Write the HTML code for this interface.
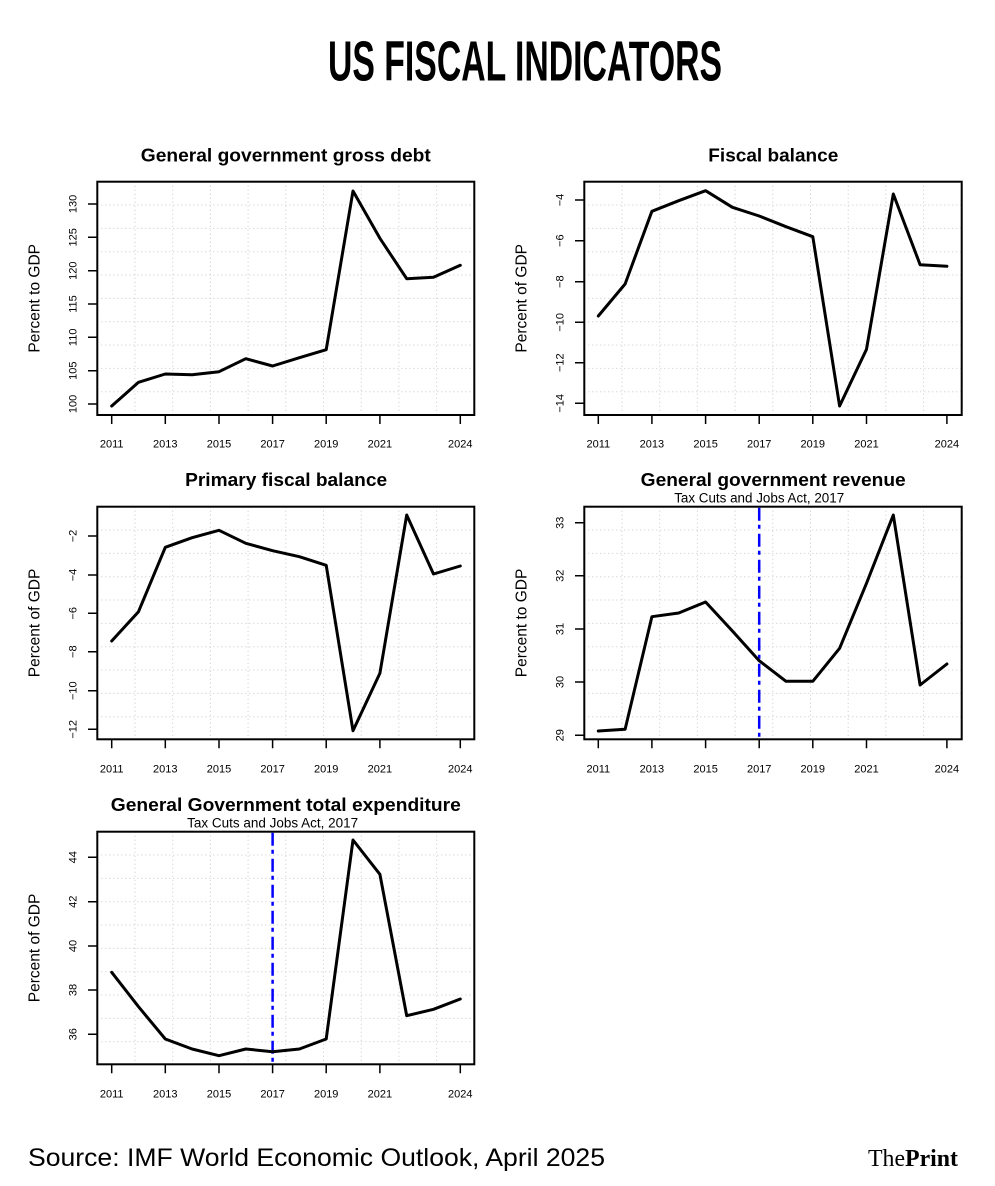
<!DOCTYPE html>
<html>
<head>
<meta charset="utf-8">
<style>
  html,body{margin:0;padding:0;background:#fff;}
  svg{display:block;}
  text{font-family:"Liberation Sans", Arial, sans-serif;fill:#000;}
  .tk{font-size:11px;}
  .yl{font-size:15.5px;}
  .tt{font-size:18.5px;font-weight:bold;}
  .st{font-size:13.5px;}
</style>
</head>
<body>
<svg width="995" height="1186" viewBox="0 0 995 1186" xmlns="http://www.w3.org/2000/svg">
  <rect x="0" y="0" width="995" height="1186" fill="#fff"/>
  <defs>
    <g id="grid" stroke="#c8c8c8" stroke-width="1" stroke-dasharray="1 3" fill="none">
      <path d="M37.7 0V233.3M75.4 0V233.3M113.1 0V233.3M150.8 0V233.3M188.5 0V233.3M226.2 0V233.3M263.9 0V233.3M301.6 0V233.3M339.3 0V233.3M0 23.33H377M0 46.67H377M0 70H377M0 93.33H377M0 116.67H377M0 140H377M0 163.33H377M0 186.67H377M0 210H377"/>
    </g>
  </defs>

  <!-- Main title -->
  <text x="328" y="80.7" font-size="57" font-weight="bold" textLength="394" lengthAdjust="spacingAndGlyphs">US FISCAL INDICATORS</text>

  <!-- ============ Panel 1 ============ -->
  <text class="tt" x="285.8" y="161.7" text-anchor="middle" textLength="290" lengthAdjust="spacingAndGlyphs">General government gross debt</text>
  <use href="#grid" x="97.3" y="181.7"/>
  <rect x="97.3" y="181.7" width="377" height="233.3" fill="none" stroke="#000" stroke-width="2"/>
  <g stroke="#000" stroke-width="1.5">
    <path d="M111.7 415V424M165.3 415V424M219 415V424M272.6 415V424M326.2 415V424M379.9 415V424M460.3 415V424"/>
    <path d="M97.3 404H88M97.3 370.7H88M97.3 337.3H88M97.3 304H88M97.3 270.7H88M97.3 237.3H88M97.3 204H88"/>
  </g>
  <g class="tk" text-anchor="middle">
    <text x="111.7" y="447.3">2011</text><text x="165.3" y="447.3">2013</text><text x="219" y="447.3">2015</text><text x="272.6" y="447.3">2017</text><text x="326.2" y="447.3">2019</text><text x="379.9" y="447.3">2021</text><text x="460.3" y="447.3">2024</text>
    <text transform="translate(76.3,404) rotate(-90)">100</text>
    <text transform="translate(76.3,370.7) rotate(-90)">105</text>
    <text transform="translate(76.3,337.3) rotate(-90)">110</text>
    <text transform="translate(76.3,304) rotate(-90)">115</text>
    <text transform="translate(76.3,270.7) rotate(-90)">120</text>
    <text transform="translate(76.3,237.3) rotate(-90)">125</text>
    <text transform="translate(76.3,204) rotate(-90)">130</text>
  </g>
  <text class="yl" transform="translate(39.3,298.3) rotate(-90)" text-anchor="middle">Percent to GDP</text>
  <polyline fill="none" stroke="#000" stroke-width="3" stroke-linejoin="round" stroke-linecap="round"
    points="111.7,406 138.5,382.3 165.3,374 192.1,374.7 219,371.7 245.8,358.7 272.6,366 299.4,357.7 326.2,349.7 353,191 379.9,238.3 406.7,278.7 433.5,277.3 460.3,265.3"/>

  <!-- ============ Panel 2 ============ -->
  <text class="tt" x="773.3" y="161.7" text-anchor="middle" textLength="130" lengthAdjust="spacingAndGlyphs">Fiscal balance</text>
  <use href="#grid" x="584.3" y="181.7"/>
  <rect x="584.3" y="181.7" width="377.4" height="233.3" fill="none" stroke="#000" stroke-width="2"/>
  <g stroke="#000" stroke-width="1.5">
    <path d="M598.3 415V424M651.9 415V424M705.6 415V424M759.2 415V424M812.8 415V424M866.5 415V424M946.9 415V424"/>
    <path d="M584.3 200H575M584.3 240.7H575M584.3 281.7H575M584.3 322.3H575M584.3 362.7H575M584.3 403.3H575"/>
  </g>
  <g class="tk" text-anchor="middle">
    <text x="598.3" y="447.3">2011</text><text x="651.9" y="447.3">2013</text><text x="705.6" y="447.3">2015</text><text x="759.2" y="447.3">2017</text><text x="812.8" y="447.3">2019</text><text x="866.5" y="447.3">2021</text><text x="946.9" y="447.3">2024</text>
    <text transform="translate(563.3,200) rotate(-90)">−4</text>
    <text transform="translate(563.3,240.7) rotate(-90)">−6</text>
    <text transform="translate(563.3,281.7) rotate(-90)">−8</text>
    <text transform="translate(563.3,322.3) rotate(-90)">−10</text>
    <text transform="translate(563.3,362.7) rotate(-90)">−12</text>
    <text transform="translate(563.3,403.3) rotate(-90)">−14</text>
  </g>
  <text class="yl" transform="translate(526.5,298.3) rotate(-90)" text-anchor="middle">Percent of GDP</text>
  <polyline fill="none" stroke="#000" stroke-width="3" stroke-linejoin="round" stroke-linecap="round"
    points="598.3,316 625.1,284 651.9,211.3 678.7,200.7 705.6,190.7 732.4,207.3 759.2,216 786,226.7 812.8,236.7 839.6,406 866.5,349.3 893.3,194 920.1,264.7 946.9,266.3"/>

  <!-- ============ Panel 3 ============ -->
  <text class="tt" x="286.1" y="486" text-anchor="middle" textLength="202" lengthAdjust="spacingAndGlyphs">Primary fiscal balance</text>
  <use href="#grid" x="97.3" y="506.7"/>
  <rect x="97.3" y="506.7" width="377" height="232.6" fill="none" stroke="#000" stroke-width="2"/>
  <g stroke="#000" stroke-width="1.5">
    <path d="M111.7 739.3V748.3M165.3 739.3V748.3M219 739.3V748.3M272.6 739.3V748.3M326.2 739.3V748.3M379.9 739.3V748.3M460.3 739.3V748.3"/>
    <path d="M97.3 536H88M97.3 575H88M97.3 613.3H88M97.3 651.7H88M97.3 690.7H88M97.3 729.3H88"/>
  </g>
  <g class="tk" text-anchor="middle">
    <text x="111.7" y="772.3">2011</text><text x="165.3" y="772.3">2013</text><text x="219" y="772.3">2015</text><text x="272.6" y="772.3">2017</text><text x="326.2" y="772.3">2019</text><text x="379.9" y="772.3">2021</text><text x="460.3" y="772.3">2024</text>
    <text transform="translate(76.3,536) rotate(-90)">−2</text>
    <text transform="translate(76.3,575) rotate(-90)">−4</text>
    <text transform="translate(76.3,613.3) rotate(-90)">−6</text>
    <text transform="translate(76.3,651.7) rotate(-90)">−8</text>
    <text transform="translate(76.3,690.7) rotate(-90)">−10</text>
    <text transform="translate(76.3,729.3) rotate(-90)">−12</text>
  </g>
  <text class="yl" transform="translate(39.3,623) rotate(-90)" text-anchor="middle">Percent of GDP</text>
  <polyline fill="none" stroke="#000" stroke-width="3" stroke-linejoin="round" stroke-linecap="round"
    points="111.7,641 138.5,611.7 165.3,547.3 192.1,537.7 219,530.3 245.8,543.3 272.6,550.7 299.4,556.7 326.2,565.3 353,730.7 379.9,673.3 406.7,515 433.5,574 460.3,566"/>

  <!-- ============ Panel 4 ============ -->
  <text class="tt" x="773.2" y="486" text-anchor="middle" textLength="265" lengthAdjust="spacingAndGlyphs">General government revenue</text>
  <text class="st" x="759.2" y="502.3" text-anchor="middle" textLength="170" lengthAdjust="spacingAndGlyphs">Tax Cuts and Jobs Act, 2017</text>
  <use href="#grid" x="584.3" y="506.7"/>
  <rect x="584.3" y="506.7" width="377.4" height="232.6" fill="none" stroke="#000" stroke-width="2"/>
  <g stroke="#000" stroke-width="1.5">
    <path d="M598.3 739.3V748.3M651.9 739.3V748.3M705.6 739.3V748.3M759.2 739.3V748.3M812.8 739.3V748.3M866.5 739.3V748.3M946.9 739.3V748.3"/>
    <path d="M584.3 522.7H575M584.3 575.7H575M584.3 629H575M584.3 682H575M584.3 735.3H575"/>
  </g>
  <g class="tk" text-anchor="middle">
    <text x="598.3" y="772.3">2011</text><text x="651.9" y="772.3">2013</text><text x="705.6" y="772.3">2015</text><text x="759.2" y="772.3">2017</text><text x="812.8" y="772.3">2019</text><text x="866.5" y="772.3">2021</text><text x="946.9" y="772.3">2024</text>
    <text transform="translate(563.3,735.3) rotate(-90)">29</text>
    <text transform="translate(563.3,682) rotate(-90)">30</text>
    <text transform="translate(563.3,629) rotate(-90)">31</text>
    <text transform="translate(563.3,575.7) rotate(-90)">32</text>
    <text transform="translate(563.3,522.7) rotate(-90)">33</text>
  </g>
  <text class="yl" transform="translate(526.5,623) rotate(-90)" text-anchor="middle">Percent to GDP</text>
  <line x1="759.2" y1="507.7" x2="759.2" y2="738.3" stroke="#0000ff" stroke-width="2.5" stroke-dasharray="13 4 4 5"/>
  <polyline fill="none" stroke="#000" stroke-width="3" stroke-linejoin="round" stroke-linecap="round"
    points="598.3,731 625.1,729.3 651.9,616.7 678.7,613 705.6,602 732.4,631 759.2,660.7 786,681.3 812.8,681.3 839.6,648.3 866.5,583.3 893.3,515 920.1,685 946.9,664"/>

  <!-- ============ Panel 5 ============ -->
  <text class="tt" x="285.8" y="811" text-anchor="middle" textLength="350" lengthAdjust="spacingAndGlyphs">General Government total expenditure</text>
  <text class="st" x="272.6" y="827.3" text-anchor="middle" textLength="171" lengthAdjust="spacingAndGlyphs">Tax Cuts and Jobs Act, 2017</text>
  <use href="#grid" x="97.3" y="831.7"/>
  <rect x="97.3" y="831.7" width="377" height="232.6" fill="none" stroke="#000" stroke-width="2"/>
  <g stroke="#000" stroke-width="1.5">
    <path d="M111.7 1064.3V1073.3M165.3 1064.3V1073.3M219 1064.3V1073.3M272.6 1064.3V1073.3M326.2 1064.3V1073.3M379.9 1064.3V1073.3M460.3 1064.3V1073.3"/>
    <path d="M97.3 857.3H88M97.3 901.7H88M97.3 946H88M97.3 990H88M97.3 1034.3H88"/>
  </g>
  <g class="tk" text-anchor="middle">
    <text x="111.7" y="1097.3">2011</text><text x="165.3" y="1097.3">2013</text><text x="219" y="1097.3">2015</text><text x="272.6" y="1097.3">2017</text><text x="326.2" y="1097.3">2019</text><text x="379.9" y="1097.3">2021</text><text x="460.3" y="1097.3">2024</text>
    <text transform="translate(76.3,1034.3) rotate(-90)">36</text>
    <text transform="translate(76.3,990) rotate(-90)">38</text>
    <text transform="translate(76.3,946) rotate(-90)">40</text>
    <text transform="translate(76.3,901.7) rotate(-90)">42</text>
    <text transform="translate(76.3,857.3) rotate(-90)">44</text>
  </g>
  <text class="yl" transform="translate(39.3,948) rotate(-90)" text-anchor="middle">Percent of GDP</text>
  <line x1="272.6" y1="832.7" x2="272.6" y2="1063.3" stroke="#0000ff" stroke-width="2.5" stroke-dasharray="13 4 4 5"/>
  <polyline fill="none" stroke="#000" stroke-width="3" stroke-linejoin="round" stroke-linecap="round"
    points="111.7,972.3 138.5,1006.7 165.3,1039 192.1,1049 219,1055.7 245.8,1049 272.6,1051.7 299.4,1049 326.2,1039 353,840 379.9,874.3 406.7,1015.7 433.5,1009.3 460.3,999"/>

  <!-- Footer -->
  <text x="28" y="1166" font-size="25" fill="#111" textLength="577" lengthAdjust="spacingAndGlyphs">Source: IMF World Economic Outlook, April 2025</text>
  <text x="868" y="1166" font-size="24" style="font-family:'Liberation Serif', 'Times New Roman', serif;" textLength="90" lengthAdjust="spacingAndGlyphs">The<tspan font-weight="bold">Print</tspan></text>
</svg>
</body>
</html>
